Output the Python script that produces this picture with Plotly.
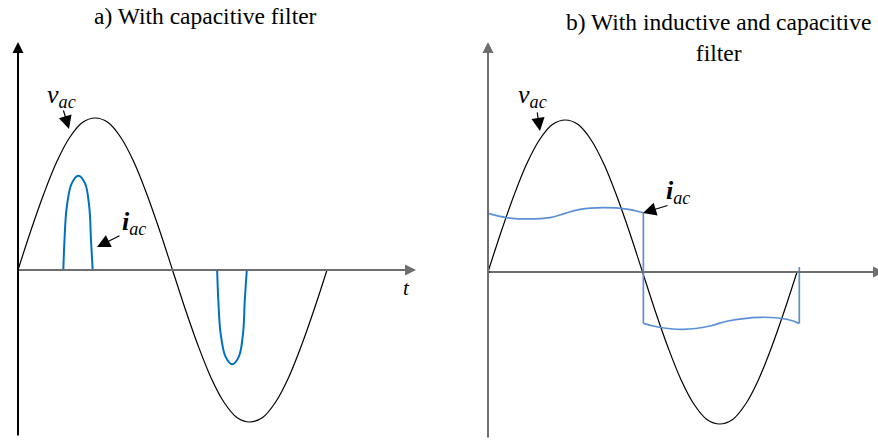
import plotly.graph_objects as go

# ---- data (angle in electrical degrees, amplitude in per-unit) ----
v_deg = [0, 15, 30, 45, 60, 75, 90, 105, 120, 135, 150, 165, 180,
         195, 210, 225, 240, 255, 270, 285, 300, 315, 330, 345, 360]
v_pu = [0, 0.26, 0.5, 0.71, 0.87, 0.97, 1.0, 0.97, 0.87, 0.71, 0.5, 0.26, 0,
        -0.26, -0.5, -0.71, -0.87, -0.97, -1.0, -0.97, -0.87, -0.71, -0.5, -0.26, 0]

# capacitive filter: narrow charging pulses near the voltage peaks
ia_pos_deg = [52.8, 54.2, 56.7, 62.6, 70.3, 78.1, 83.1, 85.0, 87.0]
ia_pos_pu = [0, 0.2, 0.41, 0.57, 0.62, 0.57, 0.41, 0.2, 0]
ia_neg_deg = [232.0, 233.4, 235.9, 241.8, 249.5, 257.3, 262.3, 264.2, 266.6]
ia_neg_pu = [0, -0.2, -0.41, -0.57, -0.62, -0.57, -0.41, -0.2, 0]
ia_zero_deg = [0, 360]
ia_zero_pu = [0, 0]

# inductive + capacitive filter: quasi-square current with ripple
ib_top_deg = [0, 21.7, 46.9, 72.2, 89.7, 107.2, 134.4, 161.6, 181.0]
ib_top_pu = [0.386, 0.358, 0.349, 0.358, 0.386, 0.412, 0.423, 0.414, 0.390]
ib_bot_deg = [181.0, 196.5, 227.5, 258.6, 278.1, 316.9, 348.0, 362.7]
ib_bot_pu = [-0.338, -0.360, -0.377, -0.355, -0.324, -0.298, -0.311, -0.338]
ib_edge1_deg, ib_edge1_pu = [0, 0], [0, 0.386]
ib_edge2_deg, ib_edge2_pu = [181.0, 181.0], [0.390, -0.338]
ib_edge3_deg, ib_edge3_pu = [362.7, 362.7], [-0.338, 0.033]
ib_base_deg, ib_base_pu = [0, 47.8], [0, 0]

titles = ["a) With capacitive filter", "b) With inductive and capacitive<br>filter"]

# ---- layout geometry (pixels) ----
W, H = 878, 440
SX = 309 / 360.0   # px per degree
SY = 152.0         # px per p.u.
LX0, LY0 = 18, 270     # origin of left panel
RX0, RY0 = 488, 272    # origin of right panel
SPLIT = 439

BLACK = "#000000"
AXGRAY = "#6e6e6e"
BLUE_A = "#0070C0"
BLUE_B = "#5B8FD8"
FONT = "Liberation Serif"

fig = go.Figure()


def add(x, y, color, width, xa, ya, shape="linear"):
    fig.add_trace(go.Scatter(x=x, y=y, mode="lines",
                             line=dict(color=color, width=width, shape=shape, smoothing=1),
                             xaxis=xa, yaxis=ya, hoverinfo="skip", showlegend=False))


# left panel
add(v_deg, v_pu, BLACK, 1.2, "x", "y", "spline")
add(ia_zero_deg, ia_zero_pu, BLUE_A, 2.2, "x", "y")
add(ia_pos_deg, ia_pos_pu, BLUE_A, 2, "x", "y", "spline")
add(ia_neg_deg, ia_neg_pu, BLUE_A, 2, "x", "y", "spline")

# right panel
add(ib_base_deg, ib_base_pu, BLACK, 2, "x2", "y2")
add(v_deg, v_pu, BLACK, 1.2, "x2", "y2", "spline")
add(ib_top_deg, ib_top_pu, BLUE_B, 1.7, "x2", "y2", "spline")
add(ib_bot_deg, ib_bot_pu, BLUE_B, 1.7, "x2", "y2", "spline")
for ex, ey in [(ib_edge1_deg, ib_edge1_pu), (ib_edge2_deg, ib_edge2_pu), (ib_edge3_deg, ib_edge3_pu)]:
    add(ex, ey, BLUE_B, 1.7, "x2", "y2")


def lx(px):
    return (px - LX0) / SX


def ly(py):
    return (LY0 - py) / SY


def rx(px):
    return (px - RX0) / SX


def ry(py):
    return (RY0 - py) / SY


ann = []


def arrow(x, y, axv, ayv, xr, yr, color, width, size=1.0, head=2):
    ann.append(dict(x=x, y=y, ax=axv, ay=ayv, xref=xr, yref=yr, axref=xr, ayref=yr,
                    text="", showarrow=True, arrowhead=head, arrowsize=size,
                    arrowwidth=width, arrowcolor=color))


# coordinate axes drawn as arrows
arrow(0, ly(42), 0, ly(437), "x", "y", BLACK, 2, 1.1)
arrow(lx(416), 0, 0, 0, "x", "y", AXGRAY, 2, 1.1)
arrow(0, ry(42), 0, ry(439), "x2", "y2", AXGRAY, 2, 1.1)
arrow(rx(884), 0, 0, 0, "x2", "y2", AXGRAY, 2, 1.1)

# label pointers
arrow(lx(69), ly(129), lx(63), ly(109), "x", "y", BLACK, 1.2, 2.2)
arrow(lx(97), ly(247), lx(121), ly(235), "x", "y", BLACK, 1.2, 2.2)
arrow(rx(540), ry(131), rx(537), ry(111), "x2", "y2", BLACK, 1.2, 2.2)
arrow(rx(643), ry(213), rx(669), ry(205), "x2", "y2", BLACK, 1.2, 2.2)


def label(x, y, text, xr, yr, size):
    ann.append(dict(x=x, y=y, xref=xr, yref=yr, text=text, showarrow=False,
                    font=dict(family=FONT, size=size, color=BLACK),
                    xanchor="center", yanchor="middle"))


v_txt = "<i>v</i><sub><i>ac</i></sub>"
i_txt = "<b><i>i</i></b><sub><i>ac</i></sub>"
label(lx(61), ly(96), v_txt, "x", "y", 26)
label(lx(134), ly(223), i_txt, "x", "y", 26)
label(rx(532), ry(96), v_txt, "x2", "y2", 26)
label(rx(678), ry(192), i_txt, "x2", "y2", 26)
label(lx(406), ly(288), "<i>t</i>", "x", "y", 21)
label(rx(885), ry(290), "<i>t</i>", "x2", "y2", 21)

# panel titles
ann.append(dict(x=205 / W, y=1 - 16 / H, xref="paper", yref="paper", text=titles[0],
                showarrow=False, xanchor="center", yanchor="middle",
                font=dict(family=FONT, size=23.5, color=BLACK)))
ann.append(dict(x=718 / W, y=1 - 37 / H, xref="paper", yref="paper", text=titles[1],
                showarrow=False, xanchor="center", yanchor="middle",
                font=dict(family=FONT, size=23.5, color=BLACK)))

hidden = dict(visible=False, showgrid=False, zeroline=False, fixedrange=True)
fig.update_layout(
    width=W, height=H,
    margin=dict(l=0, r=0, t=0, b=0),
    paper_bgcolor="white", plot_bgcolor="white",
    font=dict(family=FONT),
    showlegend=False,
    annotations=ann,
    xaxis=dict(domain=[0, SPLIT / W], range=[lx(0), lx(SPLIT)], **hidden),
    yaxis=dict(domain=[0, 1], range=[ly(H), ly(0)], **hidden),
    xaxis2=dict(domain=[SPLIT / W, 1], range=[rx(SPLIT), rx(W)], anchor="y2", **hidden),
    yaxis2=dict(domain=[0, 1], range=[ry(H), ry(0)], anchor="x2", **hidden),
)

fig.write_html("out.html")
